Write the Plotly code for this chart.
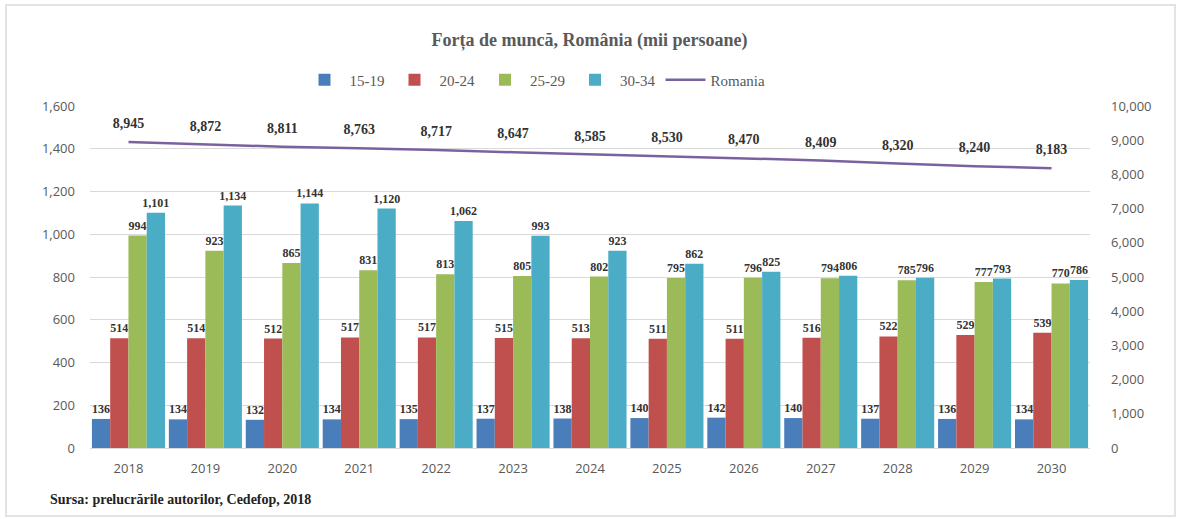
import plotly.graph_objects as go

years = ["2018", "2019", "2020", "2021", "2022", "2023", "2024", "2025", "2026", "2027", "2028", "2029", "2030"]
age_15_19 = [136, 134, 132, 134, 135, 137, 138, 140, 142, 140, 137, 136, 134]
age_20_24 = [514, 514, 512, 517, 517, 515, 513, 511, 511, 516, 522, 529, 539]
age_25_29 = [994, 923, 865, 831, 813, 805, 802, 795, 796, 794, 785, 777, 770]
age_30_34 = [1101, 1134, 1144, 1120, 1062, 993, 923, 862, 825, 806, 796, 793, 786]
romania = [8945, 8872, 8811, 8763, 8717, 8647, 8585, 8530, 8470, 8409, 8320, 8240, 8183]

serif = "Liberation Serif, Times New Roman, serif"
sans = "Open Sans, Noto Sans, sans-serif"
gray = "#595959"

fig = go.Figure()
series = [("15-19", age_15_19, "#4A7EBB"), ("20-24", age_20_24, "#C0504D"),
          ("25-29", age_25_29, "#9BBB59"), ("30-34", age_30_34, "#4BACC6")]
for name, vals, col in series:
    fig.add_trace(go.Bar(
        x=years, y=vals, name=name, marker=dict(color=col, line=dict(width=0)),
        texttemplate="<b>%{y:,}</b>", textposition="outside", constraintext="none",
        cliponaxis=False, textfont=dict(family=serif, size=12, color="#333333"),
    ))

fig.add_trace(go.Scatter(
    x=years, y=romania, name="Romania", yaxis="y2", mode="lines+markers+text",
    line=dict(color="#7A62A0", width=2.5),
    marker=dict(size=15, color="rgba(0,0,0,0)", line=dict(width=0)),
    text=[f"<b>{v:,}</b>" for v in romania], textposition="top center",
    textfont=dict(family=serif, size=14, color="#333333"), cliponaxis=False,
))

fig.update_layout(
    width=1179, height=519,
    paper_bgcolor="white", plot_bgcolor="white",
    margin=dict(l=90, r=89, t=106, b=71, autoexpand=False),
    barmode="group", bargap=0.05, bargroupgap=0,
    title=dict(text="<b>Forța de muncă, România (mii persoane)</b>", x=0.5, xanchor="center",
               y=1 - 40 / 519, yanchor="middle", font=dict(family=serif, size=18, color=gray)),
    legend=dict(orientation="h", x=0.445, xanchor="center", y=1.076, yanchor="middle",
                font=dict(family=serif, size=15, color=gray), itemwidth=40,
                traceorder="normal", bgcolor="rgba(0,0,0,0)"),
    xaxis=dict(type="category", range=[-0.5, len(years) - 0.5], showgrid=False, showline=True,
               linecolor="#D9D9D9", automargin=False,
               ticks="", ticklabelstandoff=8, tickfont=dict(family=sans, size=13, color=gray)),
    yaxis=dict(range=[0, 1600], dtick=200, tickformat=",", showgrid=True, gridcolor="#D9D9D9",
               zeroline=False, showline=False, ticks="", ticklabelstandoff=14, automargin=False,
               tickfont=dict(family=sans, size=13, color=gray)),
    yaxis2=dict(range=[0, 10000], dtick=1000, tickformat=",", overlaying="y", side="right",
                showgrid=False, zeroline=False, showline=False, ticks="", ticklabelstandoff=20,
                automargin=False, tickfont=dict(family=sans, size=13, color=gray)),
    annotations=[dict(text="<b>Sursa: prelucrările autorilor, Cedefop, 2018</b>", xref="paper", yref="paper",
                      x=(48 - 90) / 1000, y=(448 - 500) / 342, xanchor="left", yanchor="middle",
                      showarrow=False, font=dict(family=serif, size=14, color="#222222"))],
    shapes=[dict(type="rect", xref="paper", yref="paper",
                 x0=(6 - 90) / 1000, x1=(1175 - 90) / 1000,
                 y0=(448 - 516) / 342, y1=(448 - 5) / 342,
                 line=dict(color="#E3E3E3", width=2), layer="below")],
)

fig.write_html("out.html", config={"displayModeBar": False},
               post_script="document.body.style.margin='0';")
